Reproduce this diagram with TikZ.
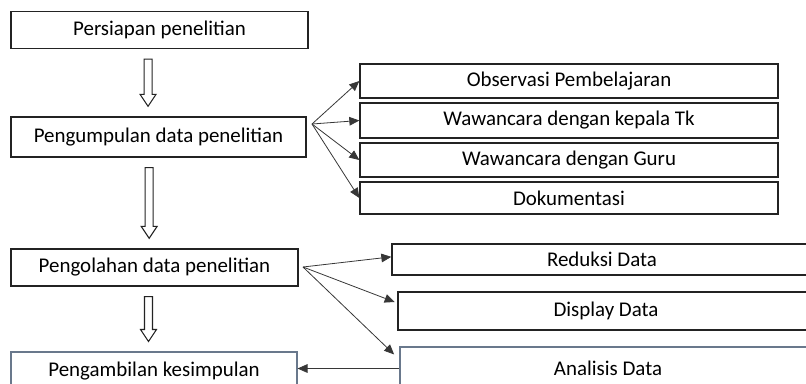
\documentclass[tikz,border=0pt]{standalone}
\usepackage{fontspec}
\setmainfont{Carlito}
\usetikzlibrary{arrows.meta,calc}
\definecolor{edge}{RGB}{35,35,35}
\definecolor{slate}{RGB}{105,120,140}
\definecolor{wire}{RGB}{55,55,55}
\tikzset{
  box/.style = {draw=edge, line width=1pt, inner sep=0pt, font=\fontsize{15.7}{19}\selectfont},
  soft/.style = {draw=slate, line width=0.8pt},
  fan/.style = {wire, line width=0.6pt, -{Triangle[length=7.5pt,width=6.5pt]}},
  hollow/.style = {draw=edge, line width=0.8pt, to path={let \p1=(\tikztostart), \p2=(\tikztotarget) in
    (\x1-3pt,\y1-7.5pt) -- (\x1-3pt,\y2+16.5pt) -- (\x1-6pt,\y2+16.5pt) -- (\x1,\y2+7.5pt)
    -- (\x1+6pt,\y2+16.5pt) -- (\x1+3pt,\y2+16.5pt) -- (\x1+3pt,\y1-7.5pt) -- cycle}},
}
\begin{document}
\begin{tikzpicture}[x=0.75pt,y=-0.75pt]
\useasboundingbox (0,0) rectangle (806,383);
\clip (0,0) rectangle (806,383);
% left column
\node[box, minimum width=222.8pt, minimum height=27.8pt] (prep) at (159.5,30) {Persiapan penelitian};
\node[box, minimum width=221.3pt, minimum height=30pt] (kumpul) at (158.5,137) {Pengumpulan data penelitian};
\node[box, minimum width=215.3pt, minimum height=27.8pt] (olah) at (154.5,267.5) {Pengolahan data penelitian};
\node[box, soft, minimum width=214.5pt, minimum height=28.5pt] (ambil) at (154,371) {Pengambilan kesimpulan};
% data collection
\node[box, minimum width=313.5pt, minimum height=25.5pt] (obs) at (569,81) {Observasi Pembelajaran};
\node[box, minimum width=313.5pt, minimum height=26.3pt] (kepala) at (569,120.5) {Wawancara dengan kepala Tk};
\node[box, minimum width=313.5pt, minimum height=25.5pt] (guru) at (569,160) {Wawancara dengan Guru};
\node[box, minimum width=313.5pt, minimum height=24pt] (dok) at (569,198) {Dokumentasi};
% data processing
\node[box, minimum width=315pt, minimum height=23.3pt] (reduksi) at (602,259.5) {Reduksi Data};
\node[box, minimum width=312pt, minimum height=28.5pt] (display) at (606,311) {Display Data};
\node[box, soft, minimum width=312pt, minimum height=32.3pt] (analisis) at (608,368.5) {Analisis Data};
% flow
\draw[hollow] ([xshift=-8.6pt]prep.south) to (kumpul.north);
\draw[hollow] ([xshift=-7pt]kumpul.south) to (olah.north);
\draw[hollow] ([xshift=-4.5pt]olah.south) to (ambil.north);
\coordinate (fan1) at (312,124);
\coordinate (fan2) at (303,267);
\foreach \t in {obs,kepala,guru,dok}
  \draw[fan] (fan1) -- (\t.west);
\draw[fan] (fan2) -- ([yshift=2pt]reduksi.west);
\draw[fan] (fan2) -- ([xshift=-2pt,yshift=-8pt]display.north west);
\draw[fan] (fan2) -- ([xshift=-4pt,yshift=-6pt]analisis.north west);
\draw[fan] (analisis.west) -- (ambil.east |- analisis.west);
\end{tikzpicture}
\end{document}
